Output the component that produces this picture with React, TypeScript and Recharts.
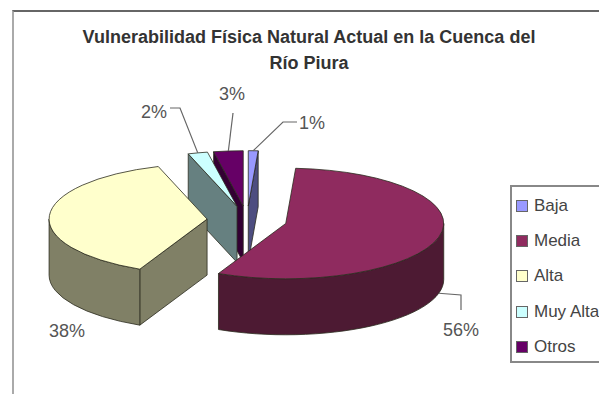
import React from "react";
import { PieChart, Pie, Legend } from "recharts";

const categories = ["Baja", "Media", "Alta", "Muy Alta", "Otros"];
const shares = [1, 56, 38, 2, 3];
const topColors = ["#9999ff", "#8f2b5f", "#ffffcc", "#ccffff", "#660066"];
const sideColors = ["#4d4d80", "#4d1a33", "#808066", "#668080", "#330033"];
const titleLines = ["Vulnerabilidad Física Natural Actual en la Cuenca del", "Río Piura"];

// back slices go first so the nearer ones paint over them
const paintOrder = ["Otros", "Muy Alta", "Baja", "Alta", "Media"];

const rows = categories.map((name, i) => ({ name, value: shares[i] }));

const TILT = 0.35;
const DEPTH = 56;
const EXPLODE = 40;

// where each percentage sits, plus the elbow of its leader line
const labelLayout: Record<string, { x: number; y: number; elbow?: number[][]; wall?: boolean }> = {
  Baja: { x: 312, y: 129, elbow: [[297, 122], [283, 122]] },
  Media: { x: 461, y: 336, elbow: [[461, 310], [461, 295]], wall: true },
  Alta: { x: 67, y: 337 },
  "Muy Alta": { x: 154, y: 118, elbow: [[170, 108], [180, 108]] },
  Otros: { x: 232, y: 100, elbow: [[233, 113]] },
};

const rad = (deg: number) => (deg * Math.PI) / 180;

function Slice3D(props: any) {
  const { cx, cy, outerRadius: r, startAngle, endAngle, payload, only } = props;
  const name = payload?.name ?? props.name;
  if (name !== only) return null;

  const i = categories.indexOf(name);
  // clockwise degrees from 12 o'clock
  const a0 = 90 - startAngle;
  const a1 = 90 - endAngle;
  const mid = (a0 + a1) / 2;
  const ox = cx + EXPLODE * Math.sin(rad(mid));
  const oy = cy - EXPLODE * TILT * Math.cos(rad(mid));
  const ry = r * TILT;
  const pt = (a: number, drop = 0) => [
    ox + r * Math.sin(rad(a)),
    oy - ry * Math.cos(rad(a)) + drop,
  ];
  const arc = (from: number, to: number, drop = 0) => {
    const [x, y] = pt(to, drop);
    const sweep = to > from ? 1 : 0;
    const large = Math.abs(to - from) > 180 ? 1 : 0;
    return `A${r} ${ry} 0 ${large} ${sweep} ${x} ${y}`;
  };
  const line = (a: number, drop = 0) => pt(a, drop).join(" ");

  const cutFace = (a: number) => {
    const [x0, y0] = pt(a);
    const [x1, y1] = pt(a, DEPTH);
    return `M${ox} ${oy}L${x0} ${y0}L${x1} ${y1}L${ox} ${oy + DEPTH}Z`;
  };

  // outer wall only shows on the front half of the rim
  const w0 = Math.max(a0, 90);
  const w1 = Math.min(a1, 270);
  const wall =
    w1 > w0
      ? `M${line(w0)}${arc(w0, w1)}L${line(w1, DEPTH)}${arc(w1, w0, DEPTH)}Z`
      : null;

  const side = { fill: sideColors[i], stroke: "#2b2b1e", strokeWidth: 0.8 };
  const layout = labelLayout[name];
  const anchor = pt(mid, layout.wall ? DEPTH : 0);
  const leader = layout.elbow
    ? [...layout.elbow, anchor].map((p) => p.join(",")).join(" ")
    : null;

  return (
    <g>
      {Math.sin(rad(a0)) < 0 && <path d={cutFace(a0)} {...side} />}
      {Math.sin(rad(a1)) > 0 && <path d={cutFace(a1)} {...side} />}
      {wall && <path d={wall} {...side} />}
      <path
        d={`M${ox} ${oy}L${line(a0)}${arc(a0, a1)}Z`}
        fill={topColors[i]}
        stroke="#2b2b1e"
        strokeWidth={0.8}
      />
      {leader && <polyline points={leader} fill="none" stroke="#666" strokeWidth={1.2} />}
      <text
        x={layout.x}
        y={layout.y}
        textAnchor="middle"
        fontFamily="Liberation Sans"
        fontSize={18}
        fill="#555"
      >
        {shares[i]}%
      </text>
    </g>
  );
}

function LegendBox() {
  return (
    <div
      style={{
        boxSizing: "border-box",
        width: 110,
        height: 178,
        border: "2px solid #888",
        paddingTop: 1,
        fontFamily: "Liberation Sans",
        fontSize: 17,
        color: "#444",
      }}
    >
      {categories.map((name, i) => (
        <div key={name} style={{ height: 35.3, display: "flex", alignItems: "center", whiteSpace: "nowrap" }}>
          <span
            style={{
              boxSizing: "border-box",
              width: 12,
              height: 12,
              margin: "0 6px 0 4px",
              background: topColors[i],
              border: "1px solid #666",
            }}
          />
          {name}
        </div>
      ))}
    </div>
  );
}

export default function App() {
  return (
    <div style={{ position: "absolute", left: 0, top: 0, width: 599, height: 394, overflow: "hidden", background: "#fff" }}>
      <div
        style={{
          position: "absolute",
          left: 12,
          top: 10,
          width: 600,
          height: 400,
          borderLeft: "2px solid #aaa",
          borderTop: "2px solid #666",
        }}
      />
      <PieChart width={599} height={394} margin={{ top: 0, right: 0, bottom: 0, left: 0 }}>
        <text x={309} y={43} textAnchor="middle" fontFamily="Liberation Sans" fontWeight="bold" fontSize={18} fill="#333">
          {titleLines[0]}
        </text>
        <text x={309} y={69} textAnchor="middle" fontFamily="Liberation Sans" fontWeight="bold" fontSize={18} fill="#333">
          {titleLines[1]}
        </text>
        {paintOrder.map((only) => (
          <Pie
            key={only}
            data={rows}
            dataKey="value"
            nameKey="name"
            cx={247}
            cy={220}
            outerRadius={158}
            startAngle={90}
            endAngle={-270}
            stroke="none"
            isAnimationActive={false}
            shape={(p: any) => <Slice3D {...p} only={only} />}
          />
        ))}
        <Legend content={LegendBox} wrapperStyle={{ left: 510, top: 185, width: 110 }} />
      </PieChart>
    </div>
  );
}
